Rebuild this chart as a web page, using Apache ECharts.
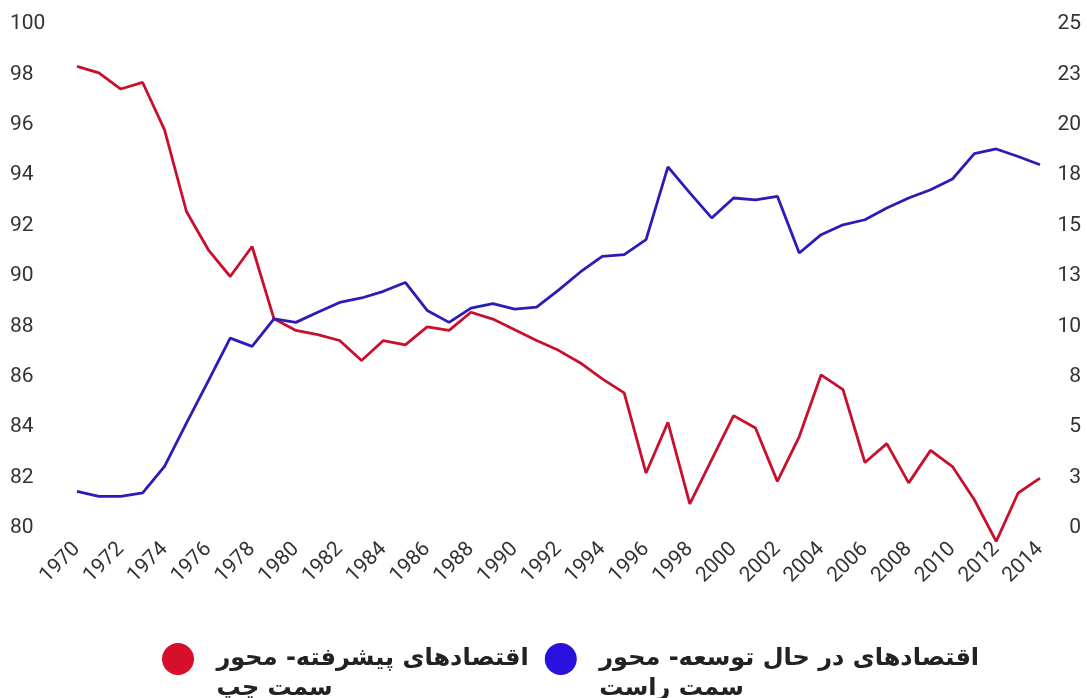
<!DOCTYPE html>
<html>
<head>
<meta charset="utf-8">
<script src="https://cdn.jsdelivr.net/npm/echarts@6/dist/echarts.min.js"></script>
<style>
  html, body { margin: 0; padding: 0; background: #fff; }
  #chart { width: 1087px; height: 698px; }
</style>
</head>
<body>
<div id="chart"></div>
<script>
// سال‌ها
const years = [];
for (let y = 1970; y <= 2014; y++) years.push(String(y));

// اقتصادهای پیشرفته (محور چپ)
const advanced = [
  98.32, 98.06, 97.42, 97.68, 95.8, 92.56, 91.04, 89.98, 91.17, 88.3,
  87.84, 87.67, 87.44, 86.65, 87.44, 87.27, 87.98, 87.84, 88.56, 88.29,
  87.87, 87.44, 87.05, 86.55, 85.92, 85.36, 82.18, 84.19, 80.96, 82.71,
  84.46, 83.97, 81.85, 83.63, 86.08, 85.49, 82.6, 83.35, 81.79, 83.08,
  82.44, 81.12, 79.47, 81.39, 81.98
];

// اقتصادهای در حال توسعه (محور راست)
const developing = [
  1.82, 1.57, 1.57, 1.74, 3.06, 5.2, 7.3, 9.42, 9.01, 10.37,
  10.2, 10.7, 11.19, 11.41, 11.74, 12.18, 10.79, 10.2, 10.91, 11.13,
  10.86, 10.96, 11.8, 12.7, 13.47, 13.56, 14.3, 17.91, 16.62, 15.38,
  16.37, 16.28, 16.45, 13.64, 14.55, 15.04, 15.29, 15.87, 16.37, 16.78,
  17.31, 18.57, 18.8, 18.43, 18.02
];

const nameAdvanced = "اقتصادهای پیشرفته- محور\nسمت چپ";
const nameDeveloping = "اقتصادهای در حال توسعه- محور\nسمت راست";

const chart = echarts.init(document.getElementById("chart"));

const axisFont = {
  color: "#333",
  fontFamily: "Roboto",
  fontSize: 21,
};

chart.setOption({
  animation: false,
  backgroundColor: "#fff",
  grid: { left: 77, right: 47, top: 24, bottom: 170 },
  legend: {
    left: 157,
    top: 609,
    itemWidth: 35,
    itemHeight: 32,
    itemGap: 16,
    icon: "circle",
    symbolKeepAspect: false,
    // خط اول متن هم‌تراز با دایره باشد
    formatter: (name) => "\n" + name,
    data: [
      { name: nameAdvanced, itemStyle: { color: "#d6102b" } },
      { name: nameDeveloping, itemStyle: { color: "#2a10dc" } },
    ],
    textStyle: {
      color: "#222",
      fontFamily: "DejaVu Sans",
      fontWeight: "bold",
      fontSize: 24,
      lineHeight: 30,
      padding: [0, 0, 0, 16],
    },
  },
  xAxis: {
    type: "category",
    data: years,
    boundaryGap: false,
    axisLine: { show: false },
    axisTick: { show: false },
    splitLine: { show: false },
    axisLabel: Object.assign({ interval: 1, rotate: 45, margin: 18 }, axisFont),
  },
  yAxis: [
    {
      type: "value",
      min: 80,
      max: 100,
      interval: 2,
      axisLine: { show: false },
      axisTick: { show: false },
      splitLine: { show: false },
      axisLabel: Object.assign({ align: "left", margin: 67 }, axisFont),
    },
    {
      type: "value",
      position: "right",
      min: 0,
      max: 25,
      interval: 2.5,
      axisLine: { show: false },
      axisTick: { show: false },
      splitLine: { show: false },
      axisLabel: Object.assign(
        { align: "right", margin: 41, formatter: (v) => String(Math.round(v)) },
        axisFont
      ),
    },
  ],
  series: [
    {
      name: nameAdvanced,
      type: "line",
      yAxisIndex: 0,
      data: advanced,
      showSymbol: false,
      clip: false,
      lineStyle: { color: "#c8102e", width: 2.8 },
      itemStyle: { color: "#c8102e" },
    },
    {
      name: nameDeveloping,
      type: "line",
      yAxisIndex: 1,
      data: developing,
      showSymbol: false,
      clip: false,
      lineStyle: { color: "#2b1bb8", width: 2.8 },
      itemStyle: { color: "#2b1bb8" },
    },
  ],
});
</script>
</body>
</html>
